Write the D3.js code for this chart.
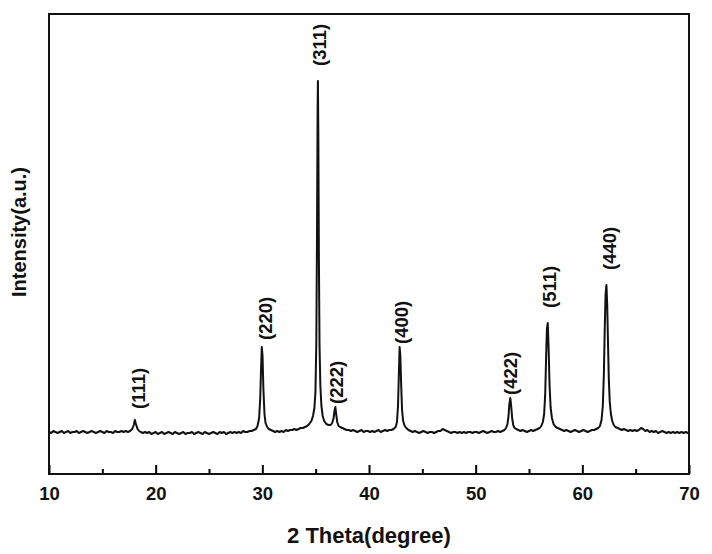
<!DOCTYPE html>
<html>
<head>
<meta charset="utf-8">
<script src="https://cdn.jsdelivr.net/npm/d3@7"></script>
<style>
  body { margin: 0; background: #fff; }
  svg { display: block; font-family: "Liberation Sans", Arial, sans-serif; font-weight: bold; }
</style>
</head>
<body>
<svg id="chart"></svg>
<script>
//------ données ------
// 2theta (degree) , intensité (a.u.)
const pattern = [
  [10.0,42],[10.2,41],[10.4,43],[10.6,42],[10.8,41],[11.0,42],[11.2,43],[11.4,41],[11.6,42],[11.8,43],
  [12.0,41],[12.2,42],[12.4,42],[12.6,43],[12.8,41],[13.0,42],[13.2,43],[13.4,42],[13.6,41],[13.8,42],
  [14.0,43],[14.2,42],[14.4,41],[14.6,42],[14.8,43],[15.0,42],[15.2,41],[15.4,43],[15.6,42],[15.8,42],
  [16.0,41],[16.2,43],[16.4,42],[16.6,42],[16.8,43],[17.0,42],[17.2,43],[17.4,42],[17.6,43],[17.8,45],
  [17.95,49],[18.05,54],[18.15,50],[18.3,45],[18.45,43],[18.6,42],[18.8,41],[19.0,42],[19.2,41],[19.4,42],
  [19.6,40],[19.8,41],[20.0,42],[20.2,40],[20.4,41],[20.6,42],[20.8,40],[21.0,41],[21.2,42],[21.4,41],
  [21.6,40],[21.8,42],[22.0,41],[22.2,40],[22.4,41],[22.6,42],[22.8,40],[23.0,41],[23.2,41],[23.4,42],
  [23.6,40],[23.8,41],[24.0,42],[24.2,41],[24.4,40],[24.6,42],[24.8,41],[25.0,40],[25.2,41],[25.4,42],
  [25.6,41],[25.8,40],[26.0,42],[26.2,41],[26.4,42],[26.6,40],[26.8,41],[27.0,42],[27.2,41],[27.4,42],
  [27.6,41],[27.8,42],[28.0,41],[28.2,43],[28.4,42],[28.6,42],[28.8,43],[29.0,43],[29.2,44],[29.4,45],
  [29.55,48],[29.7,56],[29.8,75],[29.88,105],[29.95,127],[30.02,118],[30.1,85],[30.2,60],[30.3,51],[30.45,47],
  [30.6,45],[30.8,44],[31.0,43],[31.2,42],[31.4,43],[31.6,42],[31.8,43],[32.0,42],[32.2,44],[32.4,43],
  [32.6,44],[32.8,44],[33.0,45],[33.2,44],[33.4,45],[33.6,46],[33.8,46],[34.0,47],[34.2,48],[34.4,50],
  [34.6,53],[34.75,58],[34.88,66],[34.98,82],[35.06,130],[35.12,230],[35.18,360],[35.21,393],[35.25,340],[35.3,220],
  [35.36,130],[35.44,88],[35.54,68],[35.66,58],[35.8,53],[36.0,50],[36.2,49],[36.4,49],[36.55,51],[36.68,56],
  [36.78,64],[36.85,67],[36.92,60],[37.02,52],[37.15,48],[37.3,47],[37.5,46],[37.7,45],[37.9,44],[38.1,44],
  [38.3,43],[38.5,44],[38.7,43],[38.9,42],[39.1,43],[39.3,44],[39.5,42],[39.7,43],[39.9,43],[40.1,42],
  [40.3,43],[40.5,42],[40.7,43],[40.9,44],[41.1,42],[41.3,43],[41.5,44],[41.7,43],[41.9,44],[42.1,44],
  [42.3,45],[42.5,47],[42.62,52],[42.72,68],[42.8,100],[42.87,127],[42.94,118],[43.02,88],[43.1,64],[43.2,53],
  [43.35,48],[43.5,46],[43.7,44],[43.9,43],[44.1,42],[44.3,43],[44.5,42],[44.7,41],[44.9,42],[45.1,43],
  [45.3,42],[45.5,41],[45.7,42],[45.9,42],[46.1,41],[46.3,42],[46.5,43],[46.7,43],[46.9,45],[47.1,44],
  [47.3,43],[47.5,42],[47.7,41],[47.9,42],[48.1,42],[48.3,41],[48.5,42],[48.7,41],[48.9,42],[49.1,41],
  [49.3,42],[49.5,42],[49.7,41],[49.9,42],[50.1,42],[50.3,41],[50.5,42],[50.7,43],[50.9,42],[51.1,41],
  [51.3,42],[51.5,43],[51.7,42],[51.9,42],[52.1,43],[52.3,42],[52.5,43],[52.7,44],[52.85,46],[52.98,50],
  [53.08,58],[53.16,70],[53.25,76],[53.33,68],[53.42,56],[53.52,49],[53.65,46],[53.8,45],[54.0,44],[54.2,43],
  [54.4,44],[54.6,43],[54.8,42],[55.0,43],[55.2,44],[55.4,43],[55.6,44],[55.8,45],[56.0,46],[56.15,48],
  [56.3,52],[56.42,60],[56.52,80],[56.6,115],[56.68,145],[56.76,151],[56.84,125],[56.93,88],[57.03,66],[57.15,56],
  [57.3,50],[57.5,47],[57.7,46],[57.9,45],[58.1,44],[58.3,43],[58.5,44],[58.7,43],[58.9,42],[59.1,43],
  [59.3,44],[59.5,43],[59.7,42],[59.9,43],[60.1,44],[60.3,43],[60.5,42],[60.7,43],[60.9,44],[61.1,44],
  [61.3,45],[61.5,46],[61.65,48],[61.8,54],[61.92,68],[62.02,100],[62.1,145],[62.18,180],[62.26,189],[62.33,170],
  [62.4,135],[62.48,96],[62.57,72],[62.68,60],[62.8,53],[62.95,49],[63.1,47],[63.3,46],[63.5,45],[63.7,44],
  [63.9,45],[64.1,44],[64.3,43],[64.5,44],[64.7,43],[64.9,44],[65.1,43],[65.3,44],[65.5,46],[65.7,45],
  [65.9,43],[66.1,44],[66.3,42],[66.5,43],[66.7,42],[66.9,43],[67.1,41],[67.3,42],[67.5,43],[67.7,42],
  [67.9,41],[68.1,42],[68.3,41],[68.5,42],[68.7,41],[68.9,42],[69.1,41],[69.3,42],[69.5,41],[69.7,42],
  [69.9,41],[70.0,42]
];

// indexation des pics
const peakHkl   = ["(111)", "(220)", "(311)", "(222)", "(400)", "(422)", "(511)", "(440)"];
const peakTheta = [18.05, 29.95, 35.21, 36.85, 42.87, 53.25, 56.76, 62.26];

// graduations
const majorTicks = [10, 20, 30, 40, 50, 60, 70];
const minorTicks = [15, 25, 35, 45, 55, 65];

//------ cadre ------
const width = 712, height = 554;
const margin = { top: 14, right: 23, bottom: 80, left: 49 };

const svg = d3.select("#chart")
    .attr("width", width)
    .attr("height", height);

const x = d3.scaleLinear().domain([10, 70]).range([margin.left, width - margin.right]);
const y = d3.scaleLinear().domain([0, 460]).range([height - margin.bottom, margin.top]);

// axe du bas (graduations vers l'intérieur)
svg.append("g")
    .attr("transform", `translate(0,${height - margin.bottom})`)
    .call(d3.axisBottom(x).tickValues(minorTicks).tickFormat("").tickSizeInner(-5).tickSizeOuter(0))
    .call(g => g.select(".domain").remove())
    .call(g => g.selectAll("line").attr("stroke-width", 2));

svg.append("g")
    .attr("transform", `translate(0,${height - margin.bottom})`)
    .call(d3.axisBottom(x).tickValues(majorTicks).tickFormat(d3.format("d")).tickSizeInner(-9).tickSizeOuter(0).tickPadding(13))
    .call(g => g.select(".domain").remove())
    .call(g => g.selectAll("line").attr("stroke-width", 2))
    .call(g => g.selectAll("text")
        .attr("font-size", 18.5)
        .attr("font-family", "Liberation Sans, Arial, sans-serif")
        .attr("font-weight", "bold")
        .attr("fill", "#111"));

// courbe
const line = d3.line()
    .x(d => x(d[0]))
    .y(d => y(d[1]));

svg.append("path")
    .datum(pattern)
    .attr("fill", "none")
    .attr("stroke", "#111")
    .attr("stroke-width", 2)
    .attr("stroke-linejoin", "round")
    .attr("d", line);

// étiquettes des pics (écart au sommet en px, décalage horizontal)
const labelGap = [11, 7, 15, 3, 3, 3, 15, 15];
const labelDx  = [4, 4, 2, 1, 2, 0, 2, 3];
peakHkl.forEach((lbl, i) => {
    const t = peakTheta[i];
    const near = pattern.filter(p => Math.abs(p[0] - t) < 0.15);
    const top = d3.max(near, p => p[1]);
    const px = x(t) + labelDx[i], py = y(top) - labelGap[i];
    svg.append("text")
        .attr("transform", `translate(${px},${py}) rotate(-90)`)
        .attr("dominant-baseline", "central")
        .attr("font-size", 18.5)
        .attr("fill", "#111")
        .text(lbl);
});

// cadre
svg.append("rect")
    .attr("x", margin.left)
    .attr("y", margin.top)
    .attr("width", width - margin.left - margin.right)
    .attr("height", height - margin.top - margin.bottom)
    .attr("fill", "none")
    .attr("stroke", "#111")
    .attr("stroke-width", 2);

// titres des axes
svg.append("text")
    .attr("x", (margin.left + width - margin.right) / 2)
    .attr("y", 543)
    .attr("text-anchor", "middle")
    .attr("font-size", 22)
    .attr("fill", "#111")
    .text("2 Theta(degree)");

svg.append("text")
    .attr("transform", `translate(26,232) rotate(-90)`)
    .attr("text-anchor", "middle")
    .attr("font-size", 20)
    .attr("fill", "#111")
    .text("Intensity(a.u.)");
</script>
</body>
</html>
